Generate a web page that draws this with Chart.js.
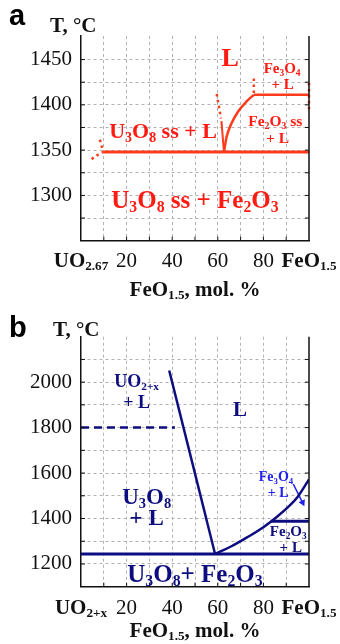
<!DOCTYPE html>
<html>
<head>
<meta charset="utf-8">
<script src="https://cdn.jsdelivr.net/npm/chart.js@4.4.1/dist/chart.umd.min.js"></script>
<style>
  html, body { margin:0; padding:0; background:#fff; }
  #wrap { position:relative; width:340px; height:644px; overflow:hidden; }
  canvas { position:absolute; left:0; }
  #chartA { top:0; }
  #chartB { top:308px; }
</style>
</head>
<body>
<div id="wrap">
  <canvas id="chartA" width="340" height="308"></canvas>
  <canvas id="chartB" width="340" height="336"></canvas>
</div>
<script>
/* U3O8 - Fe2O3 (a) and UO2+x - Fe2O3 (b) phase diagrams */

// ---- panel a (red) ----
const aSolidusX = [9.8, 100];
const aSolidusT = [1348, 1348];
const aLeftDotX = [4.7, 6.1, 7.9, 9.8, 9.1, 8.0];
const aLeftDotT = [1340, 1343, 1345.6, 1348, 1354, 1364];
const aLiqDotX = [59.5, 61.4];
const aLiqDotT = [1412, 1385];
const aLiqSteepX = [61.6, 62.7];
const aLiqSteepT = [1382, 1348];
const aFeCurveX = [62.7, 63.9, 66.1, 69.0, 72.7, 75.8];
const aFeCurveT = [1348, 1365, 1380, 1393, 1404, 1411];
const aPeritX = [75.8, 100];
const aPeritT = [1411, 1411];
const aVDotX = [75.8, 75.8];
const aVDotT = [1429, 1411];
const aRightDotX = [100, 100];
const aRightDotT = [1424, 1395];

const aNotes = [
  {text:"L", x:65.4, t:1442.6, size:26},
  {text:"U_3O_8 ss + L", x:36, t:1363.7, size:22},
  {text:"Fe_3O_4", x:88.2, t:1434.6, size:15},
  {text:"+ L", x:88.4, t:1417, size:15},
  {text:"Fe_2O_3 ss", x:85.2, t:1376.5, size:15.5},
  {text:"+ L", x:86.2, t:1358.2, size:15.5},
  {text:"U_3O_8 ss + Fe_2O_3", x:50, t:1286.5, size:25}
];

// ---- panel b (navy) ----
const bEutX = [0, 100];
const bEutT = [1244, 1244];
const bUoLiqX = [38.7, 58.8];
const bUoLiqT = [2051, 1244];
const bDashX = [0, 41.2];
const bDashT = [1800, 1800];
const bFeCurveX = [58.8, 66, 73, 80, 86, 91, 95, 100];
const bFeCurveT = [1244, 1278, 1318, 1362, 1408, 1452, 1495, 1572];
const bPeritX = [83.3, 100];
const bPeritT = [1388, 1388];
const bArrowX = [93.1, 97.2];
const bArrowT = [1552, 1470];

const bNotes = [
  {text:"UO_{2+x}", x:24.4, t:1978, size:18},
  {text:"+ L", x:24.4, t:1888, size:18},
  {text:"L", x:69.7, t:1850, size:21},
  {text:"U_3O_8", x:28.8, t:1466, size:23},
  {text:"+ L", x:28.8, t:1371, size:23},
  {text:"Fe_3O_4", x:85.5, t:1565, size:14, blue:true},
  {text:"+ L", x:86.5, t:1495, size:14, blue:true},
  {text:"Fe_2O_3", x:90.9, t:1323, size:15},
  {text:"+ L", x:92, t:1254, size:15},
  {text:"U_3O_8+ Fe_2O_3", x:50, t:1122, size:25}
];

const xTickVals = [0, 20, 40, 60, 80, 100];
const aXTickText = ["UO_{2.67}", "20", "40", "60", "80", "FeO_{1.5}"];
const bXTickText = ["UO_{2+x}", "20", "40", "60", "80", "FeO_{1.5}"];

const SERIF = "'Liberation Serif', 'DejaVu Serif', serif";
const SANS = "'Liberation Sans', Arial, sans-serif";
const RED_LINE = "#ff3b1c";
const RED_TEXT = "#ff1a12";
const NAVY = "#0d0d80";
const BLUE = "#2020f0";
const GRID = "#b2b2b2";

const zip = (xs, ys) => xs.map((x, i) => ({x, y: ys[i]}));

// split "U_3O_{8}" into normal / subscript pieces
function pieces(str){
  const out = [];
  const re = /_\{([^}]*)\}|_(.)/g;
  let last = 0, m;
  while((m = re.exec(str))){
    if(m.index > last) out.push({t: str.slice(last, m.index), sub:false});
    out.push({t: m[1] != null ? m[1] : m[2], sub:true});
    last = re.lastIndex;
  }
  if(last < str.length) out.push({t: str.slice(last), sub:false});
  return out;
}

function richText(c, str, x, y, o){
  const size = o.size, weight = o.bold === false ? "" : "bold ";
  const fam = o.family || SERIF;
  const segs = pieces(str);
  const fonts = segs.map(s => weight + (s.sub ? size*0.63 : size).toFixed(1) + "px " + fam);
  let total = 0;
  const ws = segs.map((s, i) => { c.font = fonts[i]; const w = c.measureText(s.t).width; total += w; return w; });
  let cx = o.align === "left" ? x : o.align === "right" ? x - total : x - total/2;
  c.save();
  c.fillStyle = o.color || "#111";
  c.textAlign = "left";
  c.textBaseline = "alphabetic";
  segs.forEach((s, i) => { c.font = fonts[i]; c.fillText(s.t, cx, y + (s.sub ? size*0.18 : 0)); cx += ws[i]; });
  c.restore();
}

const frame = {
  id: "frame",
  afterDraw(chart, args, opts){
    const c = chart.ctx, a = chart.chartArea;
    const xs = chart.scales.x, ys = chart.scales.y;
    c.save();
    // right border
    c.strokeStyle = "#111"; c.lineWidth = 1.5;
    c.beginPath(); c.moveTo(a.right, a.top); c.lineTo(a.right, a.bottom); c.stroke();
    // small inward ticks
    c.lineWidth = 1;
    ys.ticks.forEach(t => {
      if(t.value <= ys.min || t.value >= ys.max - 5) return;
      const py = ys.getPixelForValue(t.value);
      c.beginPath(); c.moveTo(a.left, py); c.lineTo(a.left + 4, py);
      c.moveTo(a.right, py); c.lineTo(a.right - 4, py); c.stroke();
    });
    xs.ticks.forEach(t => {
      if(t.value <= 0 || t.value >= 100) return;
      const px = xs.getPixelForValue(t.value);
      c.beginPath(); c.moveTo(px, a.bottom); c.lineTo(px, a.bottom - 4); c.stroke();
    });
    c.restore();

    // x tick labels
    xTickVals.forEach((v, i) => {
      const txt = opts.xText[i];
      const rich = txt.indexOf("_") >= 0;
      richText(c, txt, xs.getPixelForValue(v), a.bottom + opts.tickDy, {size:21, bold: rich, color:"#111"});
    });
    // axis titles
    richText(c, "FeO_{1.5}, mol. %", (a.left + a.right)/2, a.bottom + opts.titleDy, {size:21, color:"#111"});
    richText(c, "T, °C", opts.tX, a.top + opts.tDy, {size:21, align:"left", color:"#111"});
    richText(c, opts.letter, 9, opts.letterY, {size:29, family:SANS, align:"left", color:"#000"});

    // region labels
    opts.notes.forEach(n => {
      richText(c, n.text, xs.getPixelForValue(n.x), ys.getPixelForValue(n.t),
        {size:n.size, color: n.blue ? BLUE : opts.textColor});
    });
  }
};

function line(xs, ys, color, width, extra){
  return Object.assign({
    data: zip(xs, ys), showLine:true, borderColor:color, backgroundColor:color,
    borderWidth:width, pointRadius:0, fill:false, tension:0
  }, extra || {});
}

function makeChart(id, cfg){
  return new Chart(document.getElementById(id), {
    type: "scatter",
    data: { datasets: cfg.datasets },
    options: {
      responsive:false, animation:false, devicePixelRatio:1,
      layout: { padding: {top: cfg.top, right: 31, bottom: 0, left: 0} },
      plugins: { legend:{display:false}, tooltip:{enabled:false}, frame: cfg.frame },
      scales: {
        x: {
          type:"linear", min:0, max:100,
          ticks:{ display:false, stepSize:10, autoSkip:false },
          grid:{ drawTicks:false, color: c => (c.tick && (c.tick.value <= 0 || c.tick.value >= 100)) ? "rgba(0,0,0,0)" : GRID },
          border:{ display:true, color:"#111", width:1.5, dash:[3,3] },
          afterFit: s => { s.height = cfg.xHeight; }
        },
        y: {
          type:"linear", min: cfg.yMin, max: cfg.yMax,
          ticks:{
            stepSize: cfg.yStep, includeBounds:false, autoSkip:false, padding:9, color:"#111",
            font:{ family:SERIF, size:21 },
            callback: v => cfg.yLabel(v) ? String(v) : ""
          },
          grid:{ drawTicks:false, color: c => (c.tick && c.tick.value > cfg.yMax - cfg.yStep/2) ? "rgba(0,0,0,0)" : GRID },
          border:{ display:true, color:"#111", width:1.5, dash:[3,3] },
          afterFit: s => { s.width = 81; }
        }
      }
    },
    plugins: [frame]
  });
}

const dots = {borderDash:[2.5, 3.5], borderCapStyle:"butt"};

makeChart("chartA", {
  top: 36, xHeight: 67.3, yMin: 1250, yMax: 1476, yStep: 25,
  yLabel: v => v % 50 === 0 && v > 1250 && v < 1470,
  datasets: [
    line(aSolidusX, aSolidusT, RED_LINE, 3),
    line(aLeftDotX, aLeftDotT, RED_LINE, 2.5, dots),
    line(aLiqDotX, aLiqDotT, RED_LINE, 2.5, dots),
    line(aLiqSteepX, aLiqSteepT, RED_LINE, 2),
    line(aFeCurveX, aFeCurveT, RED_LINE, 2.5, {cubicInterpolationMode:"monotone"}),
    line(aPeritX, aPeritT, RED_LINE, 2.5),
    line(aVDotX, aVDotT, RED_LINE, 2.5, dots),
    line(aRightDotX, aRightDotT, RED_LINE, 2.5, Object.assign({clip:false}, dots))
  ],
  frame: { xText: aXTickText, notes: aNotes, textColor: RED_TEXT,
           tickDy: 26, titleDy: 55, tX: 50, tDy: -4, letter: "a", letterY: 25 }
});

makeChart("chartB", {
  top: 28.7, xHeight: 57.3, yMin: 1100, yMax: 2200, yStep: 100,
  yLabel: v => v % 200 === 0 && v > 1100 && v < 2100,
  datasets: [
    line(bEutX, bEutT, NAVY, 3),
    line(bUoLiqX, bUoLiqT, NAVY, 2.5),
    line(bDashX, bDashT, NAVY, 2.5, {borderDash:[8,5]}),
    line(bFeCurveX, bFeCurveT, NAVY, 2.5, {cubicInterpolationMode:"monotone"}),
    line(bPeritX, bPeritT, NAVY, 3),
    line(bArrowX, bArrowT, BLUE, 1.5, {pointStyle:"triangle", pointRadius:[0, 4], pointRotation:[0, 154], pointBorderWidth:0})
  ],
  frame: { xText: bXTickText, notes: bNotes, textColor: NAVY,
           tickDy: 27, titleDy: 50, tX: 53, tDy: -0.7, letter: "b", letterY: 28.7 }
});
</script>
</body>
</html>
